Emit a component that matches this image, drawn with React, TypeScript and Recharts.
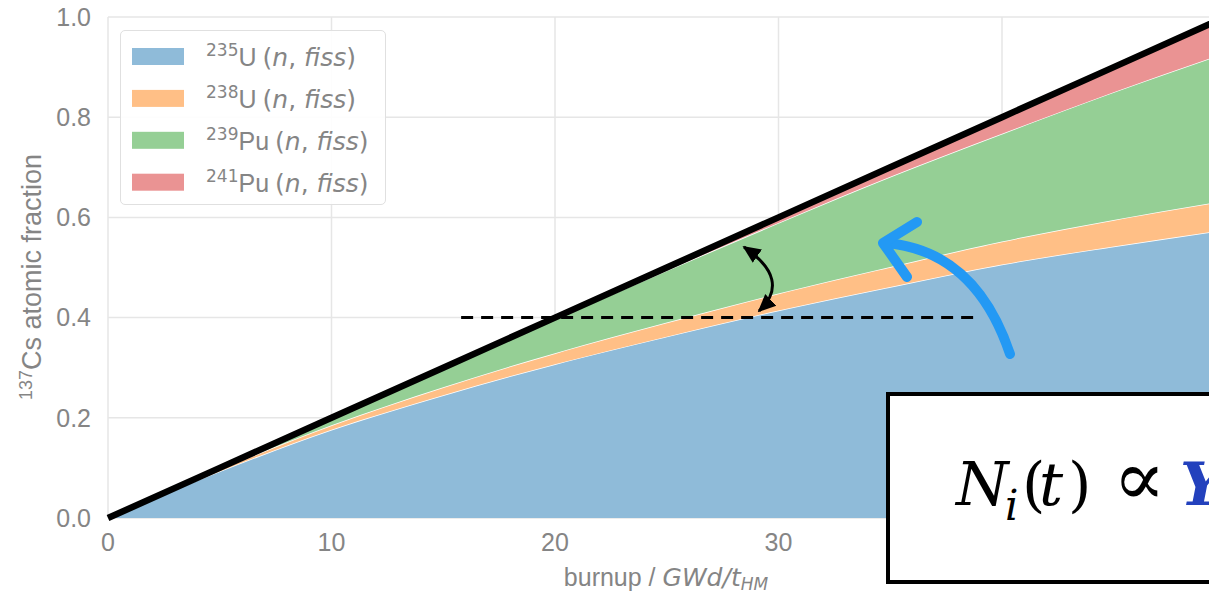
import React from "react";
import {
  ComposedChart,
  Area,
  Line,
  XAxis,
  YAxis,
  CartesianGrid,
  ReferenceLine,
} from "recharts";

// burnup grid (GWd/tHM)
const burnup = [0, 5, 10, 15, 20, 25, 30, 35, 40, 45, 50];

// 137Cs atomic fraction produced by each fissioning nuclide
const u235 = [0, 0.093, 0.176, 0.245, 0.307, 0.362, 0.414, 0.461, 0.506, 0.542, 0.575];
const u238 = [0, 0.004, 0.009, 0.016, 0.022, 0.028, 0.034, 0.04, 0.046, 0.053, 0.058];
const pu239 = [0, 0.003, 0.0145, 0.038, 0.068, 0.104, 0.141, 0.18, 0.215, 0.255, 0.295];
const pu241 = [0, 0, 0.0005, 0.001, 0.003, 0.006, 0.011, 0.019, 0.033, 0.05, 0.072];
const total = [0, 0.1, 0.2, 0.3, 0.4, 0.5, 0.6, 0.7, 0.8, 0.9, 1.0];

const xTicks = [0, 10, 20, 30, 40, 50];
const yTicks = [0, 0.2, 0.4, 0.6, 0.8, 1.0];

const series = [
  { key: "u235", mass: "235", el: "U", color: "#8fbbd9" },
  { key: "u238", mass: "238", el: "U", color: "#ffbf86" },
  { key: "pu239", mass: "239", el: "Pu", color: "#95cf95" },
  { key: "pu241", mass: "241", el: "Pu", color: "#ea9393" },
];

const data = burnup.map((b, i) => ({
  burnup: b,
  u235: u235[i],
  u238: u238[i],
  pu239: pu239[i],
  pu241: pu241[i],
  total: total[i],
}));

const SANS = "'Liberation Sans', Arial, sans-serif";
const MATH = "'DejaVu Sans', sans-serif";
const GREY = "#858585";

function FissLegend() {
  return (
    <div
      style={{
        position: "absolute",
        left: 120,
        top: 30,
        width: 264,
        height: 173,
        border: "1.5px solid #e0e0e0",
        borderRadius: 5,
        background: "rgba(255,255,255,0.9)",
      }}
    >
      <svg width={264} height={173}>
        {series.map((s, i) => {
          const cy = 25 + i * 41.9;
          return (
            <g key={s.key}>
              <rect x={11} y={cy - 8} width={52} height={17} fill={s.color} />
              <text x={85} y={cy + 10} fontSize={25} fill={GREY} fontFamily={SANS}>
                <tspan fontSize={17} dy={-10} fontFamily={MATH}>
                  {s.mass}
                </tspan>
                <tspan dy={10}>{s.el}</tspan>
                <tspan fontFamily={MATH} dx={6}>
                  (
                </tspan>
                <tspan fontFamily={MATH} fontStyle="italic">
                  n
                </tspan>
                <tspan fontFamily={MATH}>, </tspan>
                <tspan fontFamily={MATH} fontStyle="italic">
                  fiss
                </tspan>
                <tspan fontFamily={MATH}>)</tspan>
              </text>
            </g>
          );
        })}
      </svg>
    </div>
  );
}

function Annotations() {
  return (
    <svg
      width={1209}
      height={593}
      style={{ position: "absolute", left: 0, top: 0, pointerEvents: "none" }}
    >
      <defs>
        <marker
          id="blackHead"
          viewBox="0 0 10 10"
          refX="9"
          refY="5"
          markerWidth="6"
          markerHeight="6"
          orient="auto-start-reverse"
        >
          <path d="M0,0.5 L10,5 L0,9.5 z" fill="#000" />
        </marker>
      </defs>

      {/* axis titles */}
      <text
        x={666}
        y={586}
        textAnchor="middle"
        fontFamily={SANS}
        fontSize={25}
        fill={GREY}
      >
        burnup /{" "}
        <tspan fontFamily={MATH} fontStyle="italic">
          GWd/t
        </tspan>
        <tspan fontFamily={MATH} fontStyle="italic" fontSize={17} dy={4}>
          HM
        </tspan>
      </text>
      <text
        transform="translate(41,277) rotate(-90)"
        textAnchor="middle"
        fontFamily={SANS}
        fontSize={27}
        fill={GREY}
      >
        <tspan fontSize={18} dy={-9}>
          137
        </tspan>
        <tspan dy={9}>Cs atomic fraction</tspan>
      </text>

      {/* double arrow between the 0.4 level and the total line */}
      <path
        d="M744,247 Q792,280 759,311"
        fill="none"
        stroke="#000"
        strokeWidth={3}
        markerStart="url(#blackHead)"
        markerEnd="url(#blackHead)"
      />

      {/* blue arrow */}
      <path
        d="M1010,354 Q975,250 885,243"
        fill="none"
        stroke="#2399f4"
        strokeWidth={10}
        strokeLinecap="round"
      />
      <path
        d="M917,222 L883,243 L907,277"
        fill="none"
        stroke="#2399f4"
        strokeWidth={10}
        strokeLinecap="round"
        strokeLinejoin="round"
      />

      {/* formula box */}
      <rect x={888} y={394} width={360} height={188} fill="#fff" stroke="#000" strokeWidth={4} />
      <g fontFamily="'DejaVu Serif', serif" fontSize={60} fill="#000">
        <text x={956} y={505} fontStyle="italic">
          N
        </text>
        <text x={1005} y={520} fontStyle="italic" fontSize={42}>
          i
        </text>
        <text x={1022} y={505}>(</text>
        <text x={1039} y={505} fontStyle="italic">
          t
        </text>
        <text x={1068} y={505}>)</text>
        <text x={1113} y={505} fontSize={78}>
          ∝
        </text>
        <text x={1180} y={505} fontStyle="italic" fontWeight="bold" fill="#2341bd">
          Y
        </text>
      </g>
    </svg>
  );
}

export default function App() {
  return (
    <div
      style={{
        position: "absolute",
        left: 0,
        top: 0,
        width: 1209,
        height: 593,
        overflow: "hidden",
        background: "#fff",
      }}
    >
      <ComposedChart
        width={1240}
        height={593}
        data={data}
        margin={{ top: 17, right: 14.5, bottom: 0, left: 0 }}
      >
        <CartesianGrid stroke="#e6e6e6" strokeWidth={1.5} />
        <XAxis
          dataKey="burnup"
          type="number"
          domain={[0, 50]}
          ticks={xTicks}
          height={75}
          axisLine={false}
          tickLine={false}
          tickSize={0}
          tickMargin={15}
          tick={{ fill: GREY, fontSize: 25, fontFamily: SANS }}
        />
        <YAxis
          type="number"
          domain={[0, 1]}
          ticks={yTicks}
          width={108}
          axisLine={false}
          tickLine={false}
          tickSize={0}
          tickMargin={17}
          tickFormatter={(v: number) => v.toFixed(1)}
          tick={{ fill: GREY, fontSize: 25, fontFamily: SANS }}
        />
        {series.map((s) => (
          <Area
            key={s.key}
            dataKey={s.key}
            stackId="cs"
            type="monotone"
            fill={s.color}
            fillOpacity={1}
            stroke="#fff"
            strokeWidth={1.5}
            isAnimationActive={false}
          />
        ))}
        <ReferenceLine
          segment={[
            { x: 15.8, y: 0.4 },
            { x: 38.8, y: 0.4 },
          ]}
          stroke="#000"
          strokeWidth={3}
          strokeDasharray="12 8"
        />
        <Line
          dataKey="total"
          type="linear"
          stroke="#000"
          strokeWidth={6.5}
          dot={false}
          activeDot={false}
          isAnimationActive={false}
        />
      </ComposedChart>
      <FissLegend />
      <Annotations />
    </div>
  );
}
